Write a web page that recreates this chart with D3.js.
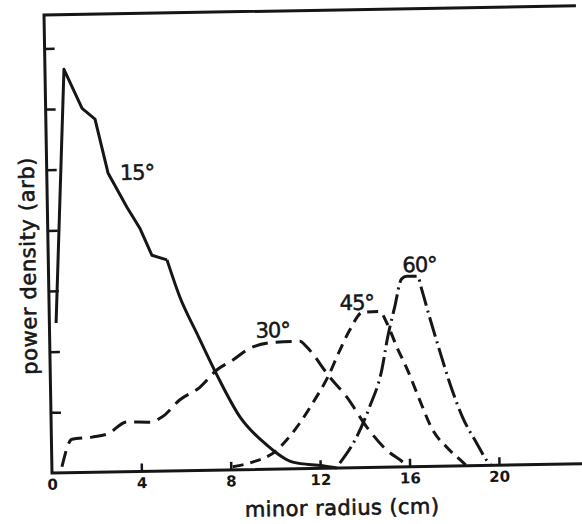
<!DOCTYPE html>
<html>
<head>
<meta charset="utf-8">
<script src="https://cdn.jsdelivr.net/npm/d3@7"></script>
<style>
  body { margin: 0; background: #fff; }
  text { font-family: "DejaVu Sans", sans-serif; fill: #161616; }
</style>
</head>
<body>
<svg id="scene" width="582" height="524"></svg>
<script>
// values: minor radius (cm) vs power density (arb)
const radius15 = [0.30, 0.85, 1.63, 2.20, 2.74, 3.56, 4.12, 4.64, 5.31, 5.86, 6.59, 7.45, 8.45, 9.63, 10.78, 12.12, 12.74];
const power15  = [2.47, 6.65, 6.00, 5.82, 4.93, 4.36, 4.01, 3.56, 3.48, 2.86, 2.26, 1.57, 0.87, 0.40, 0.11, 0.04, 0.00];

const radius30 = [0.45, 0.92, 1.82, 2.53, 3.39, 4.42, 4.96, 5.78, 6.68, 7.45, 8.18, 8.95, 10.07, 11.19, 11.50, 12.50, 13.24, 14.11, 14.99, 15.70, 15.95];
const power30  = [0.10, 0.55, 0.58, 0.63, 0.82, 0.81, 0.89, 1.17, 1.37, 1.65, 1.81, 2.00, 2.09, 2.10, 2.00, 1.50, 1.17, 0.67, 0.28, 0.08, 0.00];

const radius45 = [8.09, 8.86, 10.07, 10.53, 11.12, 11.72, 12.41, 12.97, 13.43, 14.02, 14.78, 15.09, 15.52, 15.99, 16.50, 17.06, 17.68, 18.38, 18.55];
const power45  = [0.05, 0.11, 0.31, 0.48, 0.75, 1.08, 1.50, 1.94, 2.27, 2.56, 2.57, 2.38, 1.98, 1.59, 1.10, 0.60, 0.31, 0.06, 0.00];

const radius60 = [12.88, 13.66, 14.26, 14.83, 15.12, 15.46, 15.79, 16.02, 16.51, 16.68, 17.01, 17.43, 17.86, 18.41, 19.02, 19.50, 19.65];
const power60  = [0.08, 0.51, 1.00, 1.60, 2.14, 2.64, 3.10, 3.14, 3.14, 2.92, 2.46, 1.91, 1.37, 0.80, 0.37, 0.06, 0.00];

const xTicks = [0, 4, 8, 12, 16, 20];
const yTicks = [1, 2, 3, 4, 5, 6, 7];

const ink = '#161616';

let svg = d3.select('#scene');
// the scan is tilted about one degree, so the whole plot is turned with it
let plot = svg.append('g').attr('transform', 'translate(52,473) rotate(-1)');

let scaleX = d3.scaleLinear().domain([0, 23.8]).range([0, 532]);
let scaleY = d3.scaleLinear().domain([0, 7.55]).range([0, -458]);

// frame: left axis, bottom axis, top line
plot.append('path')
	.attr('d', d3.line()([[scaleX(23.8), scaleY(7.55)], [0, scaleY(7.55)], [0, 0], [scaleX(23.8), 0]]))
	.attr('fill', 'none')
	.attr('stroke', ink)
	.attr('stroke-width', 3);

let xAxis = plot.append('g')
	.call(d3.axisBottom(scaleX).tickValues(xTicks).tickSizeInner(-8).tickSizeOuter(0).tickPadding(6).tickFormat(d3.format('d')));
xAxis.select('.domain').remove();
xAxis.selectAll('line').attr('stroke', ink).attr('stroke-width', 2.5).filter((d) => d === 0).remove();
xAxis.selectAll('text').attr('font-size', 15).attr('font-weight', 'bold').attr('fill', ink);

let yAxis = plot.append('g')
	.call(d3.axisLeft(scaleY).tickValues(yTicks).tickSizeInner(-10).tickSizeOuter(0).tickFormat(''));
yAxis.select('.domain').remove();
yAxis.selectAll('line').attr('stroke', ink).attr('stroke-width', 2.5);

// 15 deg: kinked near the peak, smooth further out
let split15 = 8;
let series = [
	{ r: radius15.slice(0, split15 + 1), p: power15.slice(0, split15 + 1), dash: null, curve: d3.curveLinear },
	{ r: radius15.slice(split15), p: power15.slice(split15), dash: null, curve: d3.curveMonotoneX },
	{ r: radius30, p: power30, dash: '16,8', curve: d3.curveMonotoneX },
	{ r: radius45, p: power45, dash: '11,7', curve: d3.curveMonotoneX },
	{ r: radius60, p: power60, dash: '20,5,2,5', curve: d3.curveMonotoneX }
];

series.forEach(function (s) {
	let line = d3.line()
		.x((d, i) => scaleX(s.r[i]))
		.y((d, i) => scaleY(s.p[i]))
		.curve(s.curve);
	plot.append('path')
		.attr('d', line(s.r))
		.attr('fill', 'none')
		.attr('stroke', ink)
		.attr('stroke-width', 3)
		.attr('stroke-linejoin', 'round')
		.attr('stroke-dasharray', s.dash);
});

// curve labels
let labels = [
	{ t: '15°', x: 3.27, y: 4.81 },
	{ t: '30°', x: 9.22, y: 2.17 },
	{ t: '45°', x: 13.0, y: 2.60 },
	{ t: '60°', x: 15.84, y: 3.21 }
];
plot.selectAll('.lab').data(labels).enter().append('text')
	.attr('class', 'lab')
	.attr('x', (d) => scaleX(d.x))
	.attr('y', (d) => scaleY(d.y))
	.attr('font-size', 21)
	.attr('letter-spacing', -1)
	.attr('stroke', ink)
	.attr('stroke-width', 0.5)
	.text((d) => d.t);

plot.append('text')
	.attr('x', scaleX(12.95))
	.attr('y', 47)
	.attr('text-anchor', 'middle')
	.attr('font-size', 21)
	.attr('letter-spacing', 0.4)
	.attr('stroke', ink)
	.attr('stroke-width', 0.6)
	.text('minor radius (cm)');

plot.append('text')
	.attr('transform', 'translate(-13,' + scaleY(3.42) + ') rotate(-90)')
	.attr('text-anchor', 'middle')
	.attr('font-size', 21)
	.attr('letter-spacing', 0.6)
	.attr('stroke', ink)
	.attr('stroke-width', 0.6)
	.text('power density (arb)');
</script>
</body>
</html>
